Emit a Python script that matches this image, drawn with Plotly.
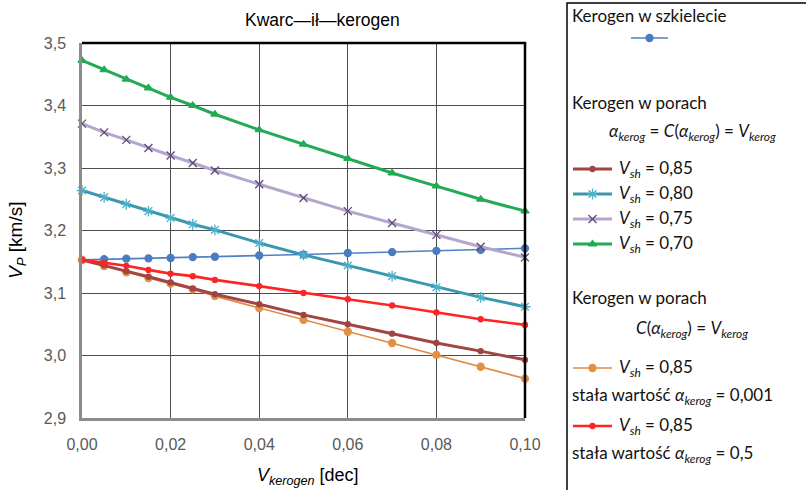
import plotly.graph_objects as go

W, H = 806, 490
# plot area in pixels
PX0, PX1, PY0, PY1 = 82, 525, 43, 418

x_vals = [0, 0.005, 0.01, 0.015, 0.02, 0.025, 0.03, 0.04, 0.05, 0.06, 0.07, 0.08, 0.09, 0.10]

skeleton = [3.153, 3.154, 3.155, 3.1555, 3.156, 3.1575, 3.158, 3.160, 3.1615, 3.164, 3.1655, 3.1675, 3.169, 3.1715]
vsh085 = [3.153, 3.1445, 3.135, 3.126, 3.117, 3.107, 3.098, 3.082, 3.065, 3.050, 3.035, 3.020, 3.007, 2.993]
vsh080 = [3.264, 3.253, 3.242, 3.231, 3.220, 3.210, 3.201, 3.180, 3.161, 3.144, 3.127, 3.109, 3.093, 3.078]
vsh075 = [3.371, 3.357, 3.345, 3.332, 3.320, 3.308, 3.296, 3.274, 3.252, 3.231, 3.212, 3.193, 3.174, 3.157]
vsh070 = [3.472, 3.457, 3.442, 3.428, 3.413, 3.400, 3.386, 3.361, 3.338, 3.315, 3.292, 3.271, 3.250, 3.231]
alpha0001 = [3.153, 3.143, 3.133, 3.124, 3.115, 3.106, 3.095, 3.076, 3.057, 3.038, 3.020, 3.001, 2.982, 2.963]
alpha05 = [3.153, 3.148, 3.1435, 3.137, 3.131, 3.127, 3.121, 3.111, 3.100, 3.090, 3.080, 3.069, 3.058, 3.049]

title_text = "Kwarc\u2014i\u0142\u2014kerogen"
x_title = "<i>V<sub>kerogen</sub></i> [dec]"
y_title = "<i>V<sub>P</sub></i> [km/s]"

series = [
    # name, data, line color, width, marker symbol, marker color, marker size
    ("skeleton", skeleton, "#4f81c4", 1.6, "circle", "#4a7cc0", 7),
    ("orange", alpha0001, "#e08a45", 1.6, "circle", "#e39045", 7),
    ("vsh085", vsh085, "#a04543", 3, "circle", "#a04543", 5),
    ("alpha05", alpha05, "#ff2424", 2.6, "circle", "#ff2424", 5),
    ("vsh080", vsh080, "#3b97ad", 3, "asterisk-open", "#4bb0c8", 9),
    ("vsh075", vsh075, "#b5a6cc", 3, "x-thin-open", "#5e4a7a", 8),
    ("vsh070", vsh070, "#22aa55", 3, "triangle-up", "#22aa55", 7),
]

fig = go.Figure()
for name, ys, lc, lw, sym, mc, ms in series:
    fig.add_trace(go.Scatter(
        x=x_vals, y=ys, mode="lines+markers", name=name,
        line=dict(color=lc, width=lw),
        marker=dict(symbol=sym, color=mc, size=ms, line=dict(color=mc, width=1.3)),
        cliponaxis=False, showlegend=False, xaxis="x", yaxis="y",
    ))

# legend samples drawn on an overlay axis in pixel units
legend_samples = [
    # y px, x0, x1, series index
    (38, 631, 668, 0),
    (169, 573, 612, 2),
    (194, 573, 612, 4),
    (219, 573, 612, 5),
    (244, 573, 612, 6),
    (368, 573, 612, 1),
    (426, 573, 612, 3),
]
for ypx, a, b, idx in legend_samples:
    name, ys, lc, lw, sym, mc, ms = series[idx]
    fig.add_trace(go.Scatter(x=[a, b], y=[ypx, ypx], mode="lines",
                             line=dict(color=lc, width=lw), showlegend=False,
                             xaxis="x2", yaxis="y2", hoverinfo="skip"))
    fig.add_trace(go.Scatter(x=[(a + b) / 2], y=[ypx], mode="markers",
                             marker=dict(symbol=sym, color=mc, size=ms, line=dict(color=mc, width=1.3)),
                             showlegend=False, xaxis="x2", yaxis="y2", hoverinfo="skip",
                             cliponaxis=False))


def px(xp):
    return xp / W


def py(yp):
    return 1 - yp / H


LEG_FONT = dict(family="Lato", size=17, color="#111111")
ann = []
ann.append(dict(text=title_text, x=px(322), y=py(20), xref="paper", yref="paper",
                xanchor="center", yanchor="middle",
                showarrow=False, font=dict(family="Liberation Sans", size=17.5, color="#000000")))
ann.append(dict(text=x_title, x=px(308), y=py(476), xref="paper", yref="paper",
                xanchor="center", yanchor="middle",
                showarrow=False, font=dict(family="Liberation Sans", size=18, color="#000000")))
ann.append(dict(text=y_title, x=px(17), y=py(240), xref="paper", yref="paper", textangle=-90,
                xanchor="center", yanchor="middle",
                showarrow=False, font=dict(family="Liberation Sans", size=19, color="#000000")))

legend_texts = [
    ("Kerogen w szkielecie", 570, 15, "left"),
    ("Kerogen w porach", 570, 102, "left"),
    ("<i>\u03b1<sub>kerog</sub></i> = <i>C</i>(<i>\u03b1<sub>kerog</sub></i>) = <i>V<sub>kerog</sub></i>", 692, 132, "center"),
    ("<i>V<sub>sh</sub></i> = 0,85", 617, 169, "left"),
    ("<i>V<sub>sh</sub></i> = 0,80", 617, 194, "left"),
    ("<i>V<sub>sh</sub></i> = 0,75", 617, 219, "left"),
    ("<i>V<sub>sh</sub></i> = 0,70", 617, 244, "left"),
    ("Kerogen w porach", 570, 297, "left"),
    ("<i>C</i>(<i>\u03b1<sub>kerog</sub></i>) = <i>V<sub>kerog</sub></i>", 692, 329, "center"),
    ("<i>V<sub>sh</sub></i> = 0,85", 617, 368, "left"),
    ("sta\u0142a warto\u015b\u0107 <i>\u03b1<sub>kerog</sub></i> = 0,001", 570, 396, "left"),
    ("<i>V<sub>sh</sub></i> = 0,85", 617, 426, "left"),
    ("sta\u0142a warto\u015b\u0107 <i>\u03b1<sub>kerog</sub></i> = 0,5", 570, 454, "left"),
]
for t, xp, yp, al in legend_texts:
    ann.append(dict(text=t, x=px(xp), y=py(yp), xref="paper", yref="paper",
                    xanchor=al, yanchor="middle", showarrow=False, font=LEG_FONT))

shapes = [
    # top and right frame of plot area
    dict(type="line", xref="paper", yref="paper", x0=px(PX0), x1=px(PX1) + 0.0015, y0=py(PY0), y1=py(PY0),
         line=dict(color="#000000", width=2.5)),
    dict(type="line", xref="paper", yref="paper", x0=px(PX1), x1=px(PX1), y0=py(PY0), y1=py(PY1),
         line=dict(color="#000000", width=2.5)),
    # legend box
    dict(type="rect", xref="paper", yref="paper", x0=px(567), x1=px(812), y0=py(3), y1=py(496),
         line=dict(color="#000000", width=1.5)),
]

fig.update_layout(
    width=W, height=H,
    margin=dict(l=0, r=0, t=0, b=0),
    paper_bgcolor="white", plot_bgcolor="white",
    separators=",.",
    annotations=ann, shapes=shapes,
    xaxis=dict(domain=[px(PX0), px(PX1)], range=[0, 0.10], dtick=0.02, tick0=0,
               tickformat=".2f", showgrid=True, gridcolor="#4d4d4d", gridwidth=1,
               showline=True, linecolor="#8c8c8c", linewidth=2.5, zeroline=False,
               ticks="", ticklabelstandoff=10, automargin=False,
               tickfont=dict(family="Liberation Sans", size=16, color="#595959"), anchor="y"),
    yaxis=dict(domain=[py(PY1), py(PY0)], range=[2.9, 3.5], dtick=0.1, tick0=2.9,
               tickformat=".1f", showgrid=True, gridcolor="#4d4d4d", gridwidth=1,
               showline=True, linecolor="#8c8c8c", linewidth=2.5, zeroline=False,
               ticks="", ticklabelstandoff=10, automargin=False,
               tickfont=dict(family="Liberation Sans", size=16, color="#595959"), anchor="x"),
    xaxis2=dict(domain=[px(567), 1], range=[567, 806], visible=False, anchor="y2", fixedrange=True),
    yaxis2=dict(domain=[0, 1], range=[490, 0], visible=False, anchor="x2", fixedrange=True),
)

fig.write_html("out.html", config={"displayModeBar": False},
               post_script="document.body.style.margin='0';document.body.style.overflow='hidden';")
